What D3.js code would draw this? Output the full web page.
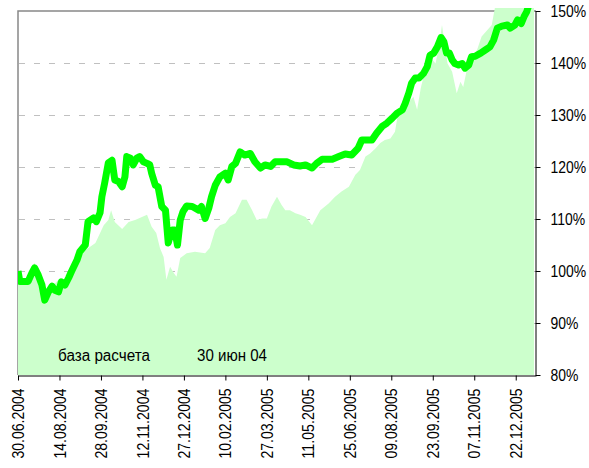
<!DOCTYPE html>
<html>
<head>
<meta charset="utf-8">
<script src="https://cdn.jsdelivr.net/npm/d3@7"></script>
<style>
  body { margin: 0; background: #fff; }
  text { font-family: "Liberation Sans", Arial, sans-serif; }
</style>
</head>
<body>
<div id="chart-area"></div>
<script>
// fund line (%)
let fundDates = ["30.06.2004","02.07.2004","11.07.2004","15.07.2004","18.07.2004","22.07.2004","26.07.2004","29.07.2004",
  "02.08.2004","06.08.2004","09.08.2004","13.08.2004","16.08.2004","20.08.2004","24.08.2004","27.08.2004",
  "02.09.2004","05.09.2004","11.09.2004","14.09.2004","20.09.2004","23.09.2004","27.09.2004","29.09.2004",
  "02.10.2004","06.10.2004","10.10.2004","13.10.2004","17.10.2004","21.10.2004","24.10.2004","26.10.2004","30.10.2004",
  "02.11.2004","06.11.2004","09.11.2004","13.11.2004","17.11.2004","20.11.2004","22.11.2004","26.11.2004","29.11.2004",
  "03.12.2004","07.12.2004","10.12.2004","14.12.2004","17.12.2004","20.12.2004","23.12.2004","26.12.2004","30.12.2004",
  "05.01.2005","12.01.2005","15.01.2005","19.01.2005","23.01.2005","26.01.2005","30.01.2005",
  "04.02.2005","10.02.2005","13.02.2005","17.02.2005","21.02.2005","26.02.2005",
  "03.03.2005","09.03.2005","14.03.2005","20.03.2005","25.03.2005","31.03.2005",
  "05.04.2005","10.04.2005","18.04.2005","25.04.2005",
  "02.05.2005","08.05.2005","15.05.2005","20.05.2005","26.05.2005","31.05.2005",
  "06.06.2005","13.06.2005","20.06.2005","27.06.2005",
  "04.07.2005","08.07.2005","14.07.2005","19.07.2005","24.07.2005","30.07.2005",
  "04.08.2005","10.08.2005","15.08.2005","21.08.2005","24.08.2005","28.08.2005","31.08.2005",
  "04.09.2005","08.09.2005","13.09.2005","17.09.2005","20.09.2005","24.09.2005","28.09.2005",
  "02.10.2005","05.10.2005","08.10.2005","11.10.2005","14.10.2005","17.10.2005","21.10.2005","25.10.2005","28.10.2005",
  "01.11.2005","04.11.2005","08.11.2005","14.11.2005","19.11.2005","24.11.2005","28.11.2005",
  "02.12.2005","07.12.2005","13.12.2005","16.12.2005","21.12.2005","24.12.2005","28.12.2005","31.12.2005",
  "03.01.2006","05.01.2006"]
let fundValues = [100.0,98.0,98.0,99.6,100.6,99.2,97.3,94.4,
  96.0,97.1,96.3,96.0,97.9,97.3,98.7,99.9,
  102.1,103.7,105.0,109.5,110.2,109.5,111.2,114.3,
  116.9,120.8,121.3,117.5,117.2,116.2,118.1,122.0,121.7,
  120.4,121.7,122.0,121.0,120.7,120.4,118.8,116.5,116.2,
  112.4,111.7,105.4,107.9,107.9,105.0,109.8,111.4,112.5,
  112.4,111.7,112.4,110.1,112.1,114.3,116.5,
  118.1,118.8,117.5,120.1,120.7,122.9,
  122.3,122.6,121.0,119.8,120.4,120.1,
  121.0,121.0,121.0,120.4,
  120.2,120.4,119.8,120.7,121.5,121.5,
  121.5,122.0,122.5,122.3,
  123.6,125.2,125.2,125.2,126.5,127.8,
  128.4,129.4,130.3,131.0,132.2,134.2,136.1,
  137.1,137.1,138.0,139.3,141.5,141.9,143.1,
  144.9,144.1,141.9,141.9,140.6,139.9,139.6,139.9,139.0,
  139.6,141.2,141.3,141.9,142.5,143.1,144.4,
  146.7,147.1,147.3,146.7,147.3,148.3,147.6,148.9,
  149.9,151.0]

// base (light area, %)
let baseDates = ["30.06.2004","04.07.2004","11.07.2004","18.07.2004","24.07.2004","29.07.2004",
  "04.08.2004","13.08.2004","19.08.2004","25.08.2004","03.09.2004","11.09.2004","22.09.2004",
  "01.10.2004","06.10.2004","09.10.2004","13.10.2004","21.10.2004","28.10.2004",
  "04.11.2004","09.11.2004","17.11.2004","22.11.2004","27.11.2004",
  "01.12.2004","05.12.2004","08.12.2004","12.12.2004","16.12.2004","19.12.2004","23.12.2004","30.12.2004",
  "08.01.2005","19.01.2005","24.01.2005","30.01.2005",
  "04.02.2005","10.02.2005","15.02.2005","21.02.2005","28.02.2005",
  "05.03.2005","11.03.2005","16.03.2005","22.03.2005","27.03.2005",
  "01.04.2005","07.04.2005","12.04.2005","16.04.2005","21.04.2005","27.04.2005",
  "02.05.2005","08.05.2005","15.05.2005","24.05.2005",
  "02.06.2005","09.06.2005","16.06.2005","24.06.2005",
  "01.07.2005","06.07.2005","12.07.2005","17.07.2005","23.07.2005","28.07.2005",
  "02.08.2005","08.08.2005","13.08.2005","17.08.2005","21.08.2005","26.08.2005","30.08.2005",
  "02.09.2005","06.09.2005","10.09.2005","13.09.2005","20.09.2005","26.09.2005","30.09.2005",
  "03.10.2005","09.10.2005","14.10.2005","19.10.2005","23.10.2005","26.10.2005","30.10.2005",
  "03.11.2005","10.11.2005","15.11.2005","21.11.2005","26.11.2005","30.11.2005",
  "05.12.2005","15.12.2005","25.12.2005","05.01.2006","13.01.2006"]
let baseValues = [100.0,97.7,98.7,101.6,98.3,95.1,
  96.7,98.3,97.7,99.6,103.1,104.0,105.4,
  108.8,109.8,111.7,109.4,108.1,109.4,
  109.8,110.2,110.8,108.5,107.3,
  104.4,102.7,98.3,100.8,99.6,98.9,102.5,103.4,
  103.7,103.4,104.4,107.9,
  108.8,109.2,110.4,111.1,113.7,
  113.7,111.7,109.8,110.1,110.1,
  112.4,114.3,112.7,111.7,111.7,111.1,
  110.8,110.4,108.8,111.7,
  113.0,114.3,115.3,116.2,
  118.5,119.4,122.0,122.6,123.6,124.6,
  125.2,125.5,126.8,131.0,131.6,132.3,132.9,
  133.5,131.0,135.2,137.4,141.2,139.9,143.5,
  147.3,139.9,138.3,134.2,136.4,135.4,138.7,
  140.9,142.5,145.1,146.3,147.3,151.2,
  152.0,153.0,154.0,155.0,156.0]

let tickLabels = ["30.06.2004","14.08.2004","28.09.2004","12.11.2004","27.12.2004","10.02.2005","27.03.2005",
  "11.05.2005","25.06.2005","09.08.2005","23.09.2005","07.11.2005","22.12.2005"]
let yTicks = [80, 90, 100, 110, 120, 130, 140, 150]
let gridTicks = [90, 100, 110, 120, 130, 140]
let noteLabel = "база расчета"
let noteDate = "30 июн 04"

let parse = d3.timeParse("%d.%m.%Y")
let fund = fundDates.map((d, i) => ({ date: parse(d), v: fundValues[i] }))
let base = baseDates.map((d, i) => ({ date: parse(d), v: baseValues[i] }))

let svg = d3.select("#chart-area").append("svg")
            .attr("width", 589)
            .attr("height", 468)

let pLeft = 18, pRight = 536, pTop = 11, pBottom = 375

let x = d3.scaleTime()
          .domain([parse("30.06.2004"), parse("13.01.2006")])
          .range([pLeft, pRight])
let y = d3.scaleLinear()
          .domain([80, 150])
          .range([pBottom, pTop])

svg.append("clipPath").attr("id", "plot")
   .append("rect")
   .attr("x", pLeft).attr("y", 8)
   .attr("width", pRight - pLeft - 2).attr("height", pBottom - 8)

// frame (gray top / left)
svg.append("path")
   .attr("d", `M${pLeft},${pBottom}V${pTop}H${pRight}`)
   .attr("fill", "none")
   .attr("stroke", "#888")
   .attr("stroke-width", 1.5)

// dashed grid
svg.selectAll("line.grid")
   .data(gridTicks)
   .enter()
   .append("line")
   .attr("class", "grid")
   .attr("x1", pLeft + 1).attr("x2", pRight)
   .attr("y1", d => Math.round(y(d)) + 0.5)
   .attr("y2", d => Math.round(y(d)) + 0.5)
   .attr("stroke", "#c0c0c0")
   .attr("stroke-dasharray", "6,9")

let g = svg.append("g").attr("clip-path", "url(#plot)")

g.append("path")
 .datum(base)
 .attr("d", d3.area().x(d => x(d.date)).y0(pBottom).y1(d => y(d.v)))
 .attr("fill", "#ccffcc")

g.append("path")
 .datum(fund)
 .attr("d", d3.line().x(d => x(d.date)).y(d => y(d.v)))
 .attr("fill", "none")
 .attr("stroke", "#00ff00")
 .attr("stroke-width", 7)
 .attr("stroke-linejoin", "round")

// right axis
let yAxis = d3.axisRight(y)
              .tickValues(yTicks)
              .tickFormat(d => d + "%")
              .tickSize(5)
              .tickSizeOuter(0)
              .tickPadding(10)
let ya = svg.append("g")
            .attr("transform", `translate(${pRight - 0.5},0)`)
            .call(yAxis)
ya.selectAll("text")
  .attr("font-size", 16)
  .attr("fill", "#000")
  .attr("x", 0)
  .attr("transform", "translate(15,0) scale(0.87,1)")
ya.selectAll("line, path").attr("stroke", "#000")

// bottom axis
let xAxis = d3.axisBottom(x)
              .tickValues(tickLabels.map(parse))
              .tickFormat(d3.timeFormat("%d.%m.%Y"))
              .tickSize(5)
              .tickSizeOuter(0)
let xa = svg.append("g")
            .attr("transform", `translate(0,${pBottom + 0.5})`)
            .call(xAxis)
xa.selectAll("line, path").attr("stroke", "#000")
xa.selectAll("text")
  .attr("font-size", 16)
  .attr("fill", "#000")
  .attr("text-anchor", "end")
  .attr("transform", "rotate(-90)")
  .attr("x", -13)
  .attr("y", 0)
  .attr("dy", "0.35em")
  .attr("textLength", 70)
  .attr("lengthAdjust", "spacingAndGlyphs")

svg.append("text")
   .attr("x", 58).attr("y", 361)
   .attr("font-size", 16)
   .attr("textLength", 92)
   .attr("lengthAdjust", "spacingAndGlyphs")
   .text(noteLabel)
svg.append("text")
   .attr("x", 197).attr("y", 361)
   .attr("font-size", 16)
   .attr("textLength", 70)
   .attr("lengthAdjust", "spacingAndGlyphs")
   .text(noteDate)
</script>
</body>
</html>
